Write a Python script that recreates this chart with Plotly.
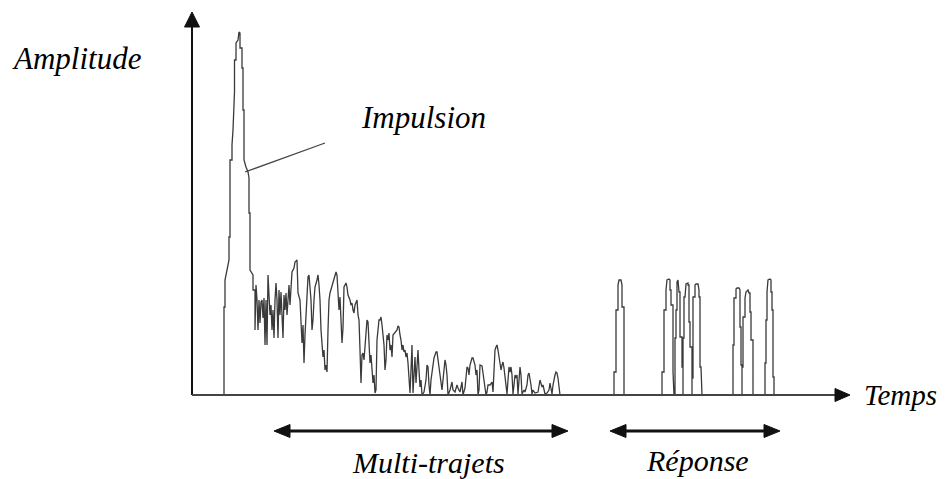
import plotly.graph_objects as go

# ---- Data (time in arbitrary units from the origin, amplitude in arbitrary units) ----
impulse_t = [0, 32, 32, 33, 33, 35, 37, 37, 38, 38, 40, 40, 41, 42.5, 42.5, 44, 44, 46, 47, 48, 48, 50, 50, 51, 51, 52,
             52, 54, 56, 57, 57, 58, 58, 61, 61, 63, 63]
impulse_a = [0, 0, 88, 88, 115, 125, 135, 158, 158, 235, 235, 250, 265, 303, 335, 335, 352, 355, 363, 362, 347, 347, 327,
             327, 285, 285, 235, 228, 223, 217, 182, 182, 125, 120, 105, 105, 65]

multipath_t = [64, 65, 66, 67, 68, 69, 70, 71, 72, 73, 74, 75, 76, 77, 78, 79, 80, 81, 82, 83, 84, 85, 86, 87, 88, 89,
               90, 91, 92, 93, 94, 95, 96, 97, 98, 99, 100, 102, 103, 105, 106, 108, 109, 110, 111, 112, 113, 114, 115,
               116, 117, 118, 119, 120, 121, 122, 123, 125, 126, 127, 128, 129, 130, 131, 132, 133, 134, 135, 136, 137,
               138, 140, 142, 144, 145, 146, 147, 148, 149, 150, 151, 152, 154, 155, 156, 158, 159, 160, 161, 162, 163,
               165, 166, 167, 168, 169, 170, 171, 172, 173, 174, 175, 176, 177, 178, 179, 180, 181, 182, 183, 184, 185,
               186, 187, 188, 189, 190, 191, 192, 193, 194, 195, 196, 197, 198, 199, 200, 201, 203, 205, 206, 207, 208,
               209, 210, 211, 212, 213, 214, 215, 216, 217, 218, 219, 220, 221, 222, 223, 224, 225, 226, 227, 228, 229,
               230, 232, 234, 235, 236, 237, 238, 239, 241, 242, 243, 244, 245, 246, 247, 248, 249, 250, 251, 253, 254,
               255, 256, 258, 260, 261, 263, 265, 266, 268, 270, 271, 273, 275, 276, 277, 278, 280, 281, 282, 283, 284,
               285, 286, 287, 288, 290, 291, 292, 294, 295, 296, 298, 300, 301, 302, 303, 304, 305, 306, 307, 308, 309,
               310, 311, 312, 313, 314, 315, 316, 317, 318, 319, 320, 321, 322, 323, 324, 325, 326, 327, 328, 329, 330,
               332, 333, 335, 336, 337, 338, 339, 340, 341, 343, 346, 348, 349, 350, 351, 353, 355, 357, 358, 360, 361,
               362, 363, 364, 365, 366, 367, 368]
multipath_a = [110, 95, 65, 95, 72, 93, 95, 77, 97, 50, 95, 50, 120, 95, 80, 90, 65, 85, 57, 95, 112, 95, 57, 105, 80,
               103, 85, 57, 100, 85, 102, 80, 95, 110, 90, 110, 123, 127, 133, 135, 102, 95, 65, 52, 70, 32, 60, 82, 95,
               118, 120, 105, 95, 65, 75, 95, 108, 115, 120, 110, 95, 65, 55, 38, 45, 25, 30, 23, 65, 95,
               102, 110, 117, 123, 120, 105, 85, 98, 75, 52, 67, 108, 112, 108, 100, 95, 90, 92, 85, 82, 90,
               95, 80, 75, 45, 12, 40, 42, 35, 50, 65, 75, 73, 50, 32, 40, 25, 12, 20, 2, 5, 55,
               65, 75, 75, 78, 70, 58, 50, 25, 35, 60, 55, 62, 45, 50, 38, 60, 63, 65, 69, 68, 60,
               55, 45, 50, 43, 45, 38, 42, 32, 20, 2, 25, 50, 2, 25, 38, 12, 35, 45, 25, 8, 15,
               0, 3, 15, 30, 28, 10, 0, 15, 33, 37, 40, 43, 43, 35, 25, 18, 10, 5, 15, 35, 30,
               20, 0, 5, 13, 5, 3, 10, 7, 3, 13, 0, 7, 28, 27, 20, 30, 37, 37, 33, 30, 20,
               25, 0, 5, 30, 29, 22, 15, 0, 3, 10, 10, 13, 3, 30, 45, 48, 50, 45, 37, 33, 25,
               30, 33, 27, 20, 10, 1, 15, 28, 23, 28, 20, 1, 10, 20, 17, 20, 1, 15, 28, 20, 1,
               5, 3, 10, 20, 22, 17, 10, 1, 5, 2, 3, 15, 10, 8, 10, 1, 2, 5, 12, 1, 10,
               17, 20, 23, 22, 17, 10, 0]

response_t = [422, 422, 424, 424, 426, 426, 427, 429, 430, 430, 432, 432, 432,
              470, 470, 472, 472, 474, 474, 475, 477, 478, 478, 479, 479, 481, 481, 482,
              483, 483, 484, 484, 485, 485, 486, 487, 488, 488, 490, 490, 491, 491,
              491, 492, 492, 493, 494, 496, 496, 497, 497, 498, 498, 500, 500,
              500, 501, 501, 503, 503, 504, 506, 507, 507, 508, 508, 509, 510,
              541, 541, 542, 542, 544, 544, 545, 547, 548, 548, 549, 549, 550, 550,
              550, 551, 551, 553, 553, 554, 556, 557, 558, 558, 559, 559, 561, 561,
              573, 573, 574, 574, 575, 575, 576, 578, 579, 579, 580, 580, 581, 581, 582, 582]
response_a = [0, 23, 23, 85, 85, 110, 115, 115, 110, 88, 88, 23, 0,
              0, 23, 23, 85, 85, 105, 115, 116, 115, 105, 105, 90, 90, 23, 0,
              0, 57, 57, 85, 85, 113, 115, 103, 103, 58, 58, 28, 28, 0,
              57, 57, 98, 98, 111, 112, 110, 110, 73, 73, 48, 48, 0,
              17, 17, 98, 98, 110, 111, 111, 105, 98, 98, 28, 28, 0,
              0, 50, 50, 97, 97, 106, 107, 107, 105, 68, 68, 30, 30, 0,
              28, 28, 78, 78, 97, 103, 105, 102, 102, 83, 83, 55, 55, 0,
              0, 32, 32, 75, 75, 103, 115, 116, 115, 103, 103, 85, 85, 18, 18, 0]

labels = {"y": "Amplitude", "x": "Temps", "peak": "Impulsion",
          "multi": "Multi-trajets", "resp": "Réponse"}

t = impulse_t + multipath_t + response_t
a = impulse_a + multipath_a + response_a

AX = "#111111"

fig = go.Figure()
fig.add_trace(go.Scatter(x=t, y=a, mode="lines", line=dict(color="#3a3a3a", width=1.3),
                         hoverinfo="skip", showlegend=False))

shapes = [
    # axes
    dict(type="line", x0=0, y0=0, x1=0, y1=370, line=dict(color=AX, width=2)),
    dict(type="path", path="M -7.5 368 L 7.5 368 L 0 383 Z", fillcolor=AX, line=dict(color=AX, width=1)),
    dict(type="line", x0=0, y0=0, x1=645, y1=0, line=dict(color="#444444", width=2)),
    dict(type="path", path="M 643 -6.5 L 643 6.5 L 658 0 Z", fillcolor=AX, line=dict(color=AX, width=1)),
    # pointer to impulse
    dict(type="line", x0=53, y0=223, x1=133, y1=252, line=dict(color="#444444", width=1.3)),
    # Multi-trajets double arrow
    dict(type="line", x0=92, y0=-36, x1=366, y1=-36, line=dict(color=AX, width=3)),
    dict(type="path", path="M 82 -36 L 98 -29.5 L 98 -42.5 Z", fillcolor=AX, line=dict(color=AX, width=1)),
    dict(type="path", path="M 376 -36 L 360 -29.5 L 360 -42.5 Z", fillcolor=AX, line=dict(color=AX, width=1)),
    # Réponse double arrow
    dict(type="line", x0=428, y0=-36, x1=578, y1=-36, line=dict(color=AX, width=3)),
    dict(type="path", path="M 418 -36 L 434 -29.5 L 434 -42.5 Z", fillcolor=AX, line=dict(color=AX, width=1)),
    dict(type="path", path="M 588 -36 L 572 -29.5 L 572 -42.5 Z", fillcolor=AX, line=dict(color=AX, width=1)),
]

def txt(s, x, y, size=31, xanchor="center"):
    return dict(text="<i>" + s + "</i>", x=x, y=y, xref="x", yref="y", showarrow=False,
                xanchor=xanchor, yanchor="middle",
                font=dict(family="Liberation Serif", size=size, color="black"))

annotations = [
    txt(labels["y"], -115, 337),
    txt(labels["peak"], 231, 278),
    txt(labels["x"], 670, 0, size=29, xanchor="left"),
    txt(labels["multi"], 236, -67, size=30),
    txt(labels["resp"], 505, -65, size=30),
]

# page body has an 8px margin: the figure is shifted by 8px, so its size and ranges account for it
fig.update_layout(
    width=941, height=471,
    margin=dict(l=0, r=0, t=0, b=0),
    paper_bgcolor="white", plot_bgcolor="white",
    xaxis=dict(range=[-184, 757], visible=False, fixedrange=True),
    yaxis=dict(range=[-84, 387], visible=False, fixedrange=True),
    shapes=shapes, annotations=annotations,
)

fig.write_html("out.html")
